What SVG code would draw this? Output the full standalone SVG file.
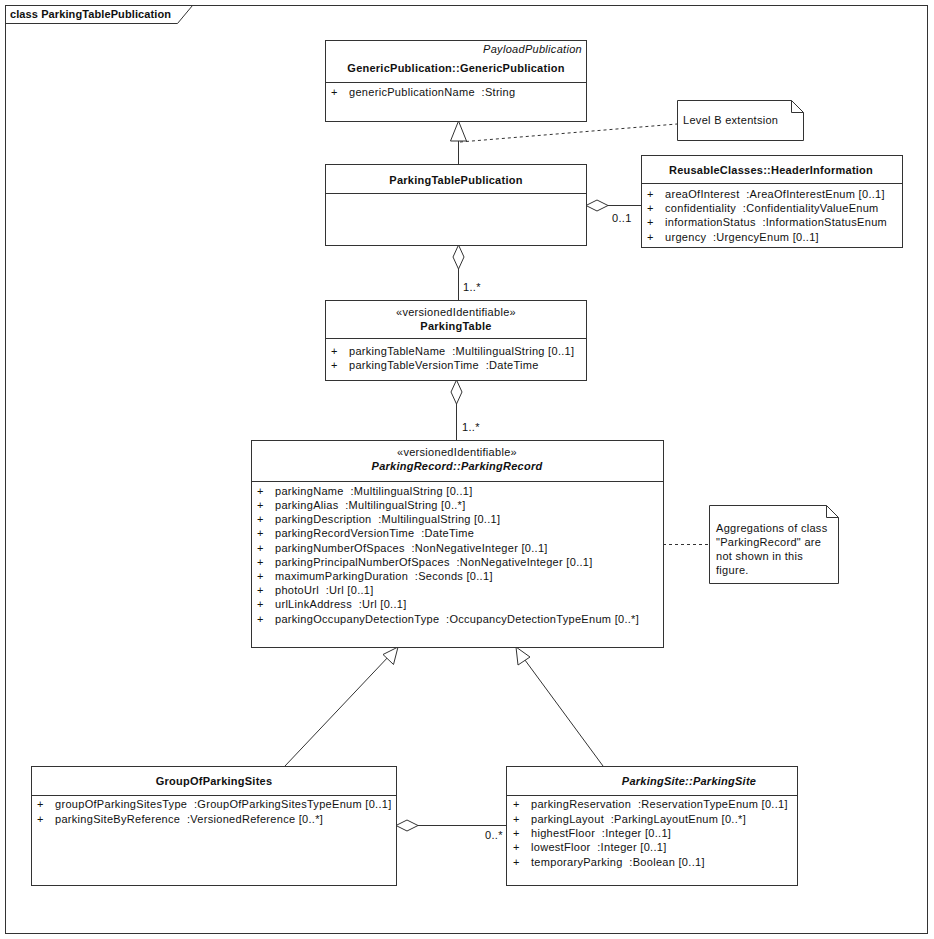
<svg xmlns="http://www.w3.org/2000/svg" width="934" height="939" viewBox="0 0 934 939" xml:space="preserve">
<defs>
<style>
text{font-family:"Liberation Sans",Arial,sans-serif;font-size:11px;fill:#111;letter-spacing:0.3px;white-space:pre}
.b{font-weight:bold;letter-spacing:0.25px}
.i{font-style:italic}
.c{text-anchor:middle}
.r{text-anchor:end}
.box{fill:#fff;stroke:#333;stroke-width:1}
.ln{fill:none;stroke:#333;stroke-width:1}
.dash{fill:none;stroke:#333;stroke-width:1;stroke-dasharray:3,3}
.tri{fill:#fff;stroke:#333;stroke-width:1}
</style>
</defs>
<rect x="0" y="0" width="934" height="939" fill="#fff"/>
<g id="frame">
<rect x="5.5" y="5.5" width="922" height="928" fill="none" stroke="#333"/>
<path class="ln" d="M5.5 23.5 H177.5 L192.5 5.5"/>
<text x="10" y="18" class="b" style="letter-spacing:0.1px">class ParkingTablePublication</text>
</g>
<g id="connectors">
<line class="ln" x1="458.5" y1="141" x2="458.5" y2="164"/>
<polygon class="tri" points="458.5,121 450.5,141 466.5,141"/>
<line class="dash" x1="460" y1="142" x2="677" y2="124"/>
<line class="ln" x1="608" y1="205.5" x2="641" y2="205.5"/>
<polygon class="tri" points="586,205.5 597,200 608,205.5 597,211"/>
<text x="612" y="222">0..1</text>
<line class="ln" x1="458.5" y1="269" x2="458.5" y2="300"/>
<polygon class="tri" points="458.5,245 464,257 458.5,269 453,257"/>
<text x="463" y="291">1..*</text>
<line class="ln" x1="456.5" y1="404" x2="456.5" y2="440"/>
<polygon class="tri" points="456.5,380 462,392 456.5,404 451,392"/>
<text x="462" y="431">1..*</text>
<line class="dash" x1="663" y1="544.5" x2="709" y2="544.5"/>
<line class="ln" x1="285" y1="766" x2="390" y2="655"/>
<polygon class="tri" points="398,647 393.5,664.5 383,654.5"/>
<line class="ln" x1="603" y1="766" x2="522" y2="656"/>
<polygon class="tri" points="516,647 530,657 518,665"/>
<line class="ln" x1="418" y1="825.5" x2="506" y2="825.5"/>
<polygon class="tri" points="396,825.5 407,820 418,825.5 407,831"/>
<text x="485" y="839">0..*</text>
</g>
<g id="GenericPublication">
<rect class="box" x="325.5" y="40.5" width="261" height="81"/>
<line class="ln" x1="325.5" y1="82.5" x2="586.5" y2="82.5"/>
<text x="582" y="53" class="i r">PayloadPublication</text>
<text x="456" y="72" class="b c">GenericPublication::GenericPublication</text>
<text x="331" y="96">+</text>
<text x="349" y="96">genericPublicationName  :String</text>
</g>
<g id="note1">
<path class="box" d="M677.5 100.5 H791.5 L803.5 112.5 V140.5 H677.5 Z"/>
<path class="ln" d="M791.5 100.5 V112.5 H803.5"/>
<text x="683" y="124">Level B extentsion</text>
</g>
<g id="ParkingTablePublication">
<rect class="box" x="325.5" y="164.5" width="261" height="81"/>
<line class="ln" x1="325.5" y1="193.5" x2="586.5" y2="193.5"/>
<text x="456" y="184" class="b c">ParkingTablePublication</text>
</g>
<g id="HeaderInformation">
<rect class="box" x="641.5" y="155.5" width="261" height="92"/>
<line class="ln" x1="641.5" y1="183.5" x2="902.5" y2="183.5"/>
<text x="771" y="174" class="b c">ReusableClasses::HeaderInformation</text>
<text x="647" y="198">+</text><text x="665" y="198">areaOfInterest  :AreaOfInterestEnum [0..1]</text>
<text x="647" y="212">+</text><text x="665" y="212">confidentiality  :ConfidentialityValueEnum</text>
<text x="647" y="226">+</text><text x="665" y="226">informationStatus  :InformationStatusEnum</text>
<text x="647" y="241">+</text><text x="665" y="241">urgency  :UrgencyEnum [0..1]</text>
</g>
<g id="ParkingTable">
<rect class="box" x="325.5" y="300.5" width="261" height="80"/>
<line class="ln" x1="325.5" y1="338.5" x2="586.5" y2="338.5"/>
<text x="456" y="316" class="c">«versionedIdentifiable»</text>
<text x="456" y="330" class="b c">ParkingTable</text>
<text x="331" y="355">+</text><text x="349" y="355">parkingTableName  :MultilingualString [0..1]</text>
<text x="331" y="369">+</text><text x="349" y="369">parkingTableVersionTime  :DateTime</text>
</g>
<g id="ParkingRecord">
<rect class="box" x="251.5" y="440.5" width="412" height="207"/>
<line class="ln" x1="251.5" y1="481.5" x2="663.5" y2="481.5"/>
<text x="457" y="456" class="c">«versionedIdentifiable»</text>
<text x="457" y="470" class="b i c">ParkingRecord::ParkingRecord</text>
<text x="257" y="495">+</text><text x="275" y="495">parkingName  :MultilingualString [0..1]</text>
<text x="257" y="509">+</text><text x="275" y="509">parkingAlias  :MultilingualString [0..*]</text>
<text x="257" y="523">+</text><text x="275" y="523">parkingDescription  :MultilingualString [0..1]</text>
<text x="257" y="537">+</text><text x="275" y="537">parkingRecordVersionTime  :DateTime</text>
<text x="257" y="552">+</text><text x="275" y="552">parkingNumberOfSpaces  :NonNegativeInteger [0..1]</text>
<text x="257" y="566">+</text><text x="275" y="566">parkingPrincipalNumberOfSpaces  :NonNegativeInteger [0..1]</text>
<text x="257" y="580">+</text><text x="275" y="580">maximumParkingDuration  :Seconds [0..1]</text>
<text x="257" y="594">+</text><text x="275" y="594">photoUrl  :Url [0..1]</text>
<text x="257" y="608">+</text><text x="275" y="608">urlLinkAddress  :Url [0..1]</text>
<text x="257" y="623">+</text><text x="275" y="623">parkingOccupanyDetectionType  :OccupancyDetectionTypeEnum [0..*]</text>
</g>
<g id="note2">
<path class="box" d="M709.5 505.5 H826.5 L838.5 517.5 V583.5 H709.5 Z"/>
<path class="ln" d="M826.5 505.5 V517.5 H838.5"/>
<text x="716" y="532">Aggregations of class</text>
<text x="716" y="546">"ParkingRecord" are</text>
<text x="716" y="560">not shown in this</text>
<text x="716" y="574">figure.</text>
</g>
<g id="GroupOfParkingSites">
<rect class="box" x="31.5" y="766.5" width="365" height="119"/>
<line class="ln" x1="31.5" y1="795.5" x2="396.5" y2="795.5"/>
<text x="214" y="785" class="b c">GroupOfParkingSites</text>
<text x="37" y="808">+</text><text x="55" y="808">groupOfParkingSitesType  :GroupOfParkingSitesTypeEnum [0..1]</text>
<text x="37" y="823">+</text><text x="55" y="823">parkingSiteByReference  :VersionedReference [0..*]</text>
</g>
<g id="ParkingSite">
<rect class="box" x="506.5" y="766.5" width="291" height="119"/>
<line class="ln" x1="506.5" y1="795.5" x2="797.5" y2="795.5"/>
<text x="689" y="785" class="b i c">ParkingSite::ParkingSite</text>
<text x="513" y="808">+</text><text x="531" y="808">parkingReservation  :ReservationTypeEnum [0..1]</text>
<text x="513" y="823">+</text><text x="531" y="823">parkingLayout  :ParkingLayoutEnum [0..*]</text>
<text x="513" y="837">+</text><text x="531" y="837">highestFloor  :Integer [0..1]</text>
<text x="513" y="851">+</text><text x="531" y="851">lowestFloor  :Integer [0..1]</text>
<text x="513" y="866">+</text><text x="531" y="866">temporaryParking  :Boolean [0..1]</text>
</g>
</svg>
